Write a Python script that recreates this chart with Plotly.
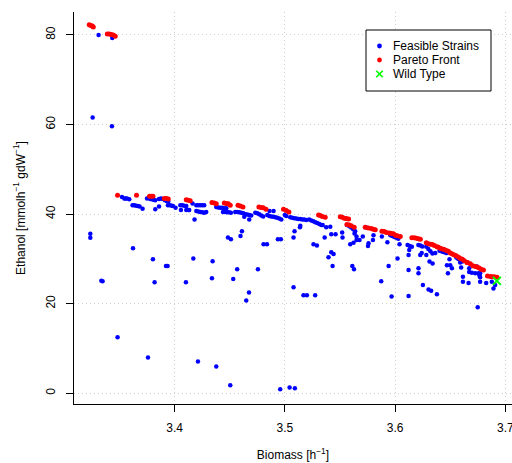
import plotly.graph_objects as go

# Feasible strains: (biomass, ethanol)
feasible_biomass = [
    3.3311, 3.3435, 3.3257, 3.3432, 3.3236, 3.3236, 3.3336, 3.3483, 3.3759, 3.4212,
    3.4378, 3.4505, 3.4958, 3.5043, 3.5091, 3.4650,
    3.3523, 3.3544, 3.3556, 3.3568, 3.3589, 3.3750, 3.3765, 3.3780, 3.3795, 3.3810,
    3.3825, 3.3859, 3.3877, 3.3895, 3.3913, 3.3931, 3.3943,
    3.3619, 3.3634, 3.3652, 3.3668, 3.3683, 3.3710, 3.3825, 3.3859,
    3.3940, 3.3958, 3.3976, 3.3985, 3.4009,
    3.4052, 3.4070, 3.4088, 3.4106, 3.4058, 3.4106, 3.4124, 3.4133, 3.4163,
    3.4197, 3.4215, 3.4233, 3.4251, 3.4269,
    3.4197, 3.4215, 3.4233, 3.4251, 3.4269, 3.4287, 3.4181,
    3.3623, 3.3804, 3.3922, 3.3937, 3.4170, 3.3347, 3.3819, 3.4103,
    3.4378, 3.4396, 3.4414, 3.4432, 3.4451, 3.4469,
    3.4439, 3.4457, 3.4475, 3.4493, 3.4511,
    3.4550, 3.4568, 3.4586, 3.4605, 3.4623, 3.4641, 3.4659, 3.4677, 3.4695,
    3.4632, 3.4677, 3.4732, 3.4750, 3.4768, 3.4786, 3.4804, 3.4861, 3.4898,
    3.4841, 3.4859, 3.4877, 3.4895, 3.4913, 3.4931, 3.4949, 3.4968, 3.5000, 3.5013,
    3.5049, 3.5067, 3.5085, 3.5104, 3.5122, 3.5140, 3.5158,
    3.4611, 3.4598, 3.4484, 3.4511, 3.4937, 3.4964, 3.4807, 3.4838,
    3.5088, 3.5079, 3.5137,
    3.4345, 3.4568, 3.4756, 3.4339, 3.4532, 3.4675, 3.5079,
    3.5176, 3.5195, 3.5221, 3.5240, 3.5258, 3.5276, 3.5294, 3.5312, 3.5330, 3.5343,
    3.5140, 3.5375, 3.5412, 3.5421, 3.5460, 3.5361, 3.5520, 3.5523,
    3.5563, 3.5584, 3.5602, 3.5620, 3.5638,
    3.5632, 3.5593, 3.5623, 3.5650, 3.5650, 3.5677, 3.5707,
    3.5739, 3.5804, 3.5799, 3.5759, 3.5754, 3.5880, 3.5930,
    3.5957, 3.5975, 3.5993, 3.6011, 3.6029,
    3.6040, 3.6022, 3.5941, 3.5874, 3.5968,
    3.5260, 3.5291, 3.5421, 3.5442, 3.5396, 3.5433, 3.5612, 3.5627,
    3.5169, 3.5200, 3.5275,
    3.6113, 3.6133, 3.6152, 3.6128, 3.6122, 3.6228,
    3.6211, 3.6229, 3.6247, 3.6241,
    3.6283, 3.6301, 3.6320, 3.6338, 3.6283,
    3.6364, 3.6428, 3.6446, 3.6465,
    3.6312, 3.6340, 3.6403, 3.6493, 3.6470, 3.6500, 3.6479, 3.6515,
    3.6590, 3.6555, 3.6573, 3.6592, 3.6610,
    3.6599, 3.6672, 3.6672, 3.6696, 3.6726, 3.6755, 3.6741,
    3.6771, 3.6771, 3.6771, 3.6765,
    3.6615, 3.6615, 3.6666, 3.6826, 3.6877, 3.6892, 3.6907,
    3.6122, 3.6212, 3.6212, 3.6252, 3.6303, 3.6327, 3.6379, 3.6122, 3.6749,
]
feasible_ethanol = [
    80.0, 79.3, 61.6, 59.6, 35.6, 34.7, 25.1, 12.5, 8.0, 7.1,
    6.0, 1.8, 0.9, 1.3, 1.1, 20.7,
    43.8, 43.5, 43.5, 43.5, 43.3, 43.5, 43.6, 43.4, 43.3, 43.2,
    43.1, 43.4, 43.5, 43.4, 43.1, 42.9, 42.8,
    42.0, 42.0, 41.9, 41.8, 41.7, 41.2, 41.1, 41.7,
    42.0, 42.0, 41.9, 41.8, 41.4,
    42.0, 42.0, 41.9, 41.8, 40.9, 40.9, 40.9, 40.9, 42.4,
    42.0, 42.0, 42.0, 42.0, 42.0,
    40.7, 40.6, 40.5, 40.4, 40.3, 40.5, 38.8,
    32.4, 29.9, 28.4, 28.4, 30.1, 25.0, 24.8, 24.8,
    41.6, 41.5, 41.4, 41.4, 41.3, 41.3,
    40.5, 40.5, 40.4, 40.4, 40.3,
    40.5, 40.5, 40.4, 40.3, 40.2, 40.0, 39.9, 39.8, 39.7,
    39.4, 38.8, 40.3, 40.2, 40.0, 39.7, 39.5, 40.7, 40.7,
    39.8, 39.6, 39.5, 39.4, 39.3, 39.2, 39.0, 38.8, 39.8, 39.6,
    39.3, 39.2, 39.1, 39.0, 38.9, 38.9, 38.8,
    36.2, 35.1, 34.8, 34.4, 34.4, 34.4, 33.3, 33.3,
    36.2, 34.8, 37.1,
    29.5, 27.7, 27.7, 25.7, 25.5, 22.5, 23.7,
    38.8, 38.7, 38.8, 38.6, 38.4, 38.2, 38.0, 37.8, 37.6, 37.6,
    37.4, 37.1, 37.2, 35.5, 35.5, 34.8, 35.9, 34.8,
    37.6, 37.3, 37.0, 36.6, 36.2,
    35.7, 33.3, 33.6, 35.0, 34.2, 34.2, 35.0,
    37.0, 35.3, 34.2, 33.5, 32.9, 35.0, 33.7,
    35.3, 35.1, 34.9, 34.7, 34.5,
    33.3, 30.1, 28.4, 25.0, 21.6,
    33.3, 33.0, 31.5, 31.1, 30.4, 28.4, 28.4, 27.7,
    21.9, 21.9, 21.9,
    33.1, 32.9, 32.7, 32.0, 30.9, 30.9,
    33.1, 33.0, 32.8, 31.3,
    32.7, 32.2, 31.7, 31.2, 30.9,
    31.3, 31.6, 31.5, 31.3,
    29.4, 29.0, 31.8, 29.9, 28.6, 28.6, 26.8, 27.9,
    29.2, 30.3, 30.0, 29.7, 29.4,
    28.1, 27.9, 27.1, 26.9, 26.8, 26.8, 28.3,
    26.8, 25.9, 24.9, 26.3,
    26.0, 24.9, 24.6, 24.6, 24.9, 23.4, 24.2,
    27.5, 27.9, 26.8, 24.2, 23.2, 22.9, 22.1, 21.7, 19.2,
]

# Pareto-optimal strains
pareto_biomass = [
    3.3226, 3.3240, 3.3254, 3.3263,
    3.3390, 3.3408, 3.3426, 3.3444, 3.3462,
    3.3483, 3.3655, 3.3773, 3.3789, 3.3804,
    3.3907, 3.3925, 3.3943, 3.4106, 3.4124, 3.4142,
    3.4339, 3.4360, 3.4378, 3.4451, 3.4469, 3.4487, 3.4505,
    3.4575, 3.4596, 3.4620, 3.4765, 3.4786, 3.4804, 3.4829,
    3.4988, 3.5013, 3.5037,
    3.5306, 3.5321, 3.5340, 3.5366,
    3.5503, 3.5521, 3.5539, 3.5557, 3.5578,
    3.5563, 3.5584, 3.5602, 3.5629,
    3.5729, 3.5757, 3.5784, 3.5802, 3.5820,
    3.5880, 3.5902, 3.5921, 3.5948, 3.5966, 3.5984, 3.6002, 3.6020, 3.6047,
    3.6152, 3.6174, 3.6193, 3.6211, 3.6229,
    3.6283, 3.6301, 3.6320, 3.6338, 3.6356, 3.6380,
    3.6392, 3.6410, 3.6428, 3.6446, 3.6465, 3.6483, 3.6501,
    3.6519, 3.6537, 3.6555, 3.6576,
    3.6592, 3.6610, 3.6628, 3.6652, 3.6656, 3.6682,
    3.6705, 3.6726, 3.6744, 3.6762, 3.6780, 3.6801,
    3.6838, 3.6864, 3.6882, 3.6900, 3.6924,
]
pareto_ethanol = [
    82.3, 82.1, 82.0, 81.8,
    80.2, 80.2, 80.1, 80.0, 79.7,
    44.2, 44.2, 44.0, 44.0, 44.0,
    43.5, 43.5, 43.4, 43.2, 43.1, 43.0,
    42.6, 42.5, 42.3, 42.5, 42.4, 42.3, 42.0,
    42.0, 41.8, 41.6, 41.6, 41.5, 41.4, 41.1,
    41.1, 40.8, 40.5,
    39.8, 39.7, 39.5, 39.3,
    39.4, 39.3, 39.1, 39.0, 38.9,
    37.7, 37.6, 37.4, 37.1,
    37.1, 36.9, 36.8, 36.6, 36.5,
    36.2, 36.1, 35.9, 35.8, 35.7, 35.6, 35.3, 35.2, 35.0,
    34.7, 34.7, 34.6, 34.5, 34.4,
    33.6, 33.4, 33.3, 33.2, 33.0, 32.7,
    32.6, 32.4, 32.2, 32.1, 31.9, 31.7, 31.3,
    31.1, 30.9, 30.7, 30.4,
    30.1, 29.9, 29.6, 29.2, 29.2, 28.9,
    28.5, 28.3, 28.2, 28.0, 27.7, 27.5,
    26.2, 26.1, 26.0, 26.0, 25.9,
]

# Reference (wild type) strain
wild_biomass = [3.6923]
wild_ethanol = [25.1]

x_ticks = [3.4, 3.5, 3.6, 3.7]
y_ticks = [0, 20, 40, 60, 80]

legend_labels = ["Feasible Strains", "Pareto Front", "Wild Type"]

FONT = "Liberation Sans, Arial, Helvetica, sans-serif"
BLUE, RED, GREEN = "#0000ff", "#ff0000", "#00ff00"

W, H = 512, 463
ML, MR, MT, MB = 74, 0, 12, 59
PW, PH = W - ML - MR, H - MT - MB


def px_to_paper(px, py):
    """Pixel position in the page -> paper coordinates."""
    return (px - ML) / PW, (H - MB - py) / PH


fig = go.Figure()
fig.add_trace(go.Scatter(
    x=feasible_biomass, y=feasible_ethanol, mode="markers",
    name=legend_labels[0],
    marker=dict(color=BLUE, size=4.5, line=dict(width=0)),
))
fig.add_trace(go.Scatter(
    x=pareto_biomass, y=pareto_ethanol, mode="markers",
    name=legend_labels[1],
    marker=dict(color=RED, size=5, line=dict(width=0)),
))
fig.add_trace(go.Scatter(
    x=wild_biomass, y=wild_ethanol, mode="markers",
    name=legend_labels[2],
    marker=dict(symbol="x-thin", color=GREEN, size=8,
                line=dict(color=GREEN, width=2)),
))

axis_common = dict(
    showline=True, linecolor="black", linewidth=1, mirror=False,
    ticks="outside", ticklen=7, tickcolor="black", tickwidth=1,
    showgrid=True, gridcolor="#cfcfcf", gridwidth=1, griddash="1px,3px",
    zeroline=False, tickfont=dict(family=FONT, size=12, color="black"),
    ticklabeloverflow="allow",
)

fig.update_xaxes(
    range=[3.3088, 3.706], tickvals=x_ticks,
    ticktext=[f"{v:.1f}" for v in x_ticks],
    ticklabelstandoff=6,
    title=dict(text="Biomass [h<sup>−1</sup>]", standoff=16,
               font=dict(family=FONT, size=12, color="black")),
    **axis_common,
)
fig.update_yaxes(
    range=[-2.39, 85.13], tickvals=y_ticks, tickangle=-90,
    ticklabelstandoff=6,
    title=dict(text="Ethanol [mmolh<sup>−1</sup> gdW<sup>−1</sup>]", standoff=16,
               font=dict(family=FONT, size=12, color="black")),
    **axis_common,
)

# Boxed legend in the top-right corner
shapes = []
annotations = []
bx0, by0 = px_to_paper(366, 30)
bx1, by1 = px_to_paper(491, 91)
shapes.append(dict(type="rect", xref="paper", yref="paper",
                   x0=bx0, x1=bx1, y0=by1, y1=by0,
                   line=dict(color="black", width=1), fillcolor="white", layer="above"))
row_y = [46, 60, 74]
key_x = 379.5
for i, (label, py) in enumerate(zip(legend_labels, row_y)):
    tx, ty = px_to_paper(391, py)
    annotations.append(dict(xref="paper", yref="paper", x=tx, y=ty,
                            xanchor="left", yanchor="middle", showarrow=False,
                            text=label, font=dict(family=FONT, size=12, color="black")))
    if i < 2:
        r = 2.4
        cx0, cy0 = px_to_paper(key_x - r, py - r)
        cx1, cy1 = px_to_paper(key_x + r, py + r)
        shapes.append(dict(type="circle", xref="paper", yref="paper",
                           x0=cx0, x1=cx1, y0=cy1, y1=cy0, layer="above",
                           fillcolor=BLUE if i == 0 else RED, line=dict(width=0)))
    else:
        h = 3.3
        for sgn in (1, -1):
            lx0, ly0 = px_to_paper(key_x - h, py - sgn * h)
            lx1, ly1 = px_to_paper(key_x + h, py + sgn * h)
            shapes.append(dict(type="line", xref="paper", yref="paper",
                               x0=lx0, y0=ly0, x1=lx1, y1=ly1, layer="above",
                               line=dict(color=GREEN, width=1.6)))

fig.update_layout(
    width=W, height=H,
    margin=dict(l=ML, r=MR, t=MT, b=MB, autoexpand=False),
    paper_bgcolor="white", plot_bgcolor="white",
    font=dict(family=FONT, size=12, color="black"),
    showlegend=False,
    shapes=shapes, annotations=annotations,
)

fig.write_html("out.html")
